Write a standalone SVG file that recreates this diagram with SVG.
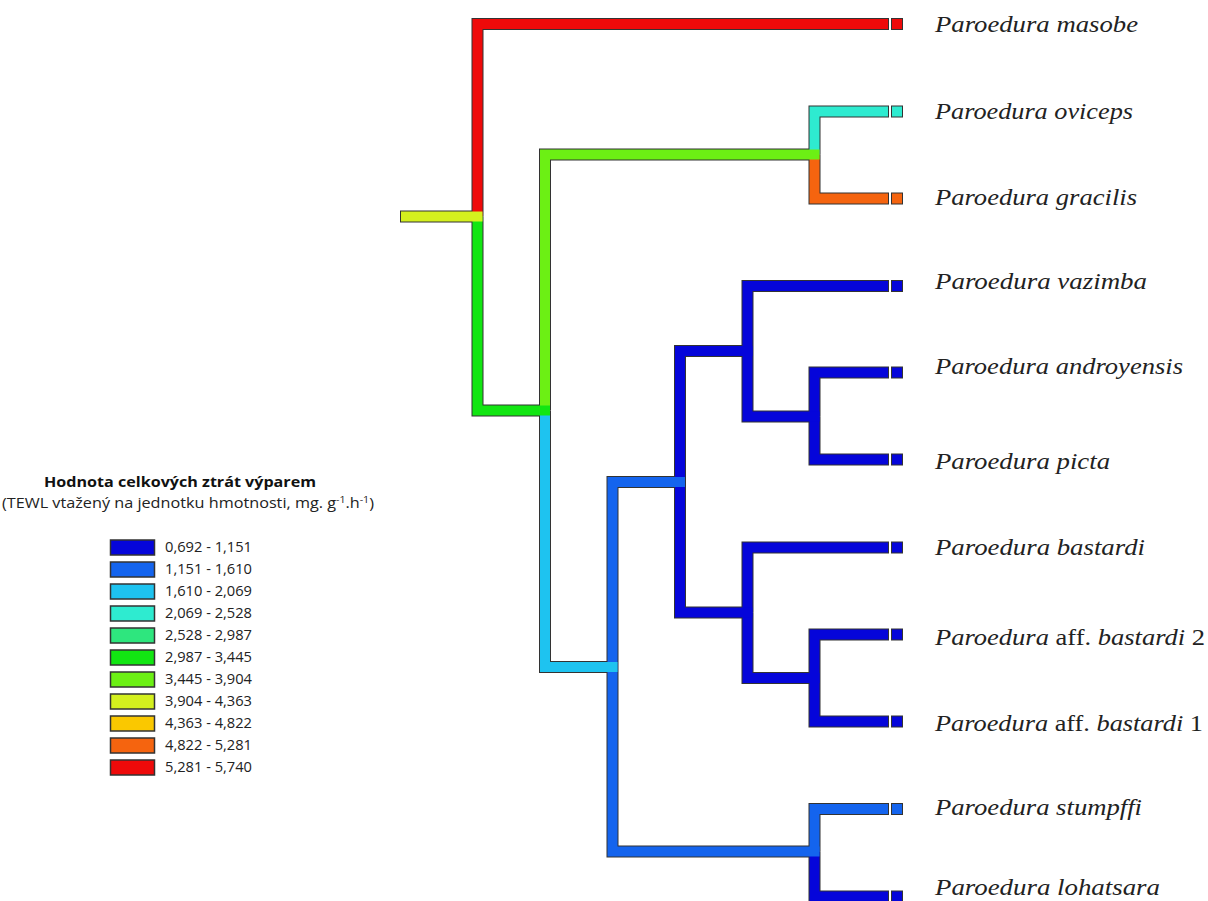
<svg xmlns="http://www.w3.org/2000/svg" width="1208" height="901" viewBox="0 0 1208 901">
<style>
.o{fill:none;stroke:#333;stroke-width:12;stroke-linejoin:miter;stroke-linecap:butt}
.f{fill:none;stroke-width:10;stroke-linejoin:miter;stroke-linecap:butt}
.tip{stroke:#333;stroke-width:1}
.tx{font-family:"Liberation Serif","Times New Roman",serif;font-size:24px;font-style:italic;fill:#222}
.up{font-style:normal}
.lg{font-family:"Open Sans","Liberation Sans",Arial,sans-serif;font-size:14.5px;fill:#222}
.lt{font-family:"Open Sans","Liberation Sans",Arial,sans-serif;font-size:15px;font-weight:bold;fill:#111}
.lb{stroke:#333;stroke-width:1.5}
.c1{stroke:#0505DA}.c2{stroke:#1464EE}.c3{stroke:#1EC3F0}.c4{stroke:#2EEBD0}.c6{stroke:#12E612}.c7{stroke:#6CF014}.c8{stroke:#D4F01E}.c10{stroke:#F5640F}.c11{stroke:#EE0A0A}
</style>
<rect width="1208" height="901" fill="#ffffff"/>
<g id="connectors">
  <g id="outlines" class="o">
    <path d="M477.5,216.5 V24 H889"/>
    <path d="M814.5,154.5 V111.5 H889"/>
    <path d="M814.5,154.5 V198.5 H889"/>
    <path d="M747.5,351 V286 H889"/>
    <path d="M814.5,416.5 V372.5 H889"/>
    <path d="M814.5,416.5 V459.5 H889"/>
    <path d="M747.5,612.5 V547.5 H889"/>
    <path d="M814.5,678 V634.5 H889"/>
    <path d="M814.5,678 V721.5 H889"/>
    <path d="M814.5,851.5 V809 H889"/>
    <path d="M814.5,851.5 V896.5 H889"/>
    <path d="M747.5,351 V416.5 H819.5"/>
    <path d="M747.5,612.5 V678 H819.5"/>
    <path d="M680,482 V351 H752.5"/>
    <path d="M680,482 V612.5 H752.5"/>
    <path d="M685,482 H612.5 V851.5 H819.5"/>
    <path d="M545,410.5 V667 H617.5"/>
    <path d="M545,410.5 V154.5 H819.5"/>
    <path d="M477.5,216.5 V410.5 H550"/>
    <path d="M400,216.5 H482.5"/>
  </g>
  <g id="branches" class="f">
    <path class="c11" d="M477.5,216.5 V24 H888"/>
    <path class="c4" d="M814.5,154.5 V111.5 H888"/>
    <path class="c10" d="M814.5,154.5 V198.5 H888"/>
    <path class="c1" d="M747.5,351 V286 H888"/>
    <path class="c1" d="M814.5,416.5 V372.5 H888"/>
    <path class="c1" d="M814.5,416.5 V459.5 H888"/>
    <path class="c1" d="M747.5,612.5 V547.5 H888"/>
    <path class="c1" d="M814.5,678 V634.5 H888"/>
    <path class="c1" d="M814.5,678 V721.5 H888"/>
    <path class="c2" d="M814.5,851.5 V809 H888"/>
    <path class="c1" d="M814.5,851.5 V896.5 H888"/>
    <path class="c1" d="M747.5,351 V416.5 H819.5"/>
    <path class="c1" d="M747.5,612.5 V678 H819.5"/>
    <path class="c1" d="M680,482 V351 H752.5"/>
    <path class="c1" d="M680,482 V612.5 H752.5"/>
    <path class="c2" d="M685,482 H612.5 V851.5 H819.5"/>
    <path class="c3" d="M545,410.5 V667 H617.5"/>
    <path class="c7" d="M545,410.5 V154.5 H819.5"/>
    <path class="c6" d="M477.5,216.5 V410.5 H550"/>
    <path class="c8" d="M401,216.5 H482.5"/>
  </g>
</g>
<g id="taxon-masobe"><rect class="tip" x="891.5" y="18.5" width="11" height="11" fill="#EE0A0A"/><text class="tx" x="935" y="32" textLength="203" lengthAdjust="spacingAndGlyphs">Paroedura masobe</text></g>
<g id="taxon-oviceps"><rect class="tip" x="891.5" y="106" width="11" height="11" fill="#2EEBD0"/><text class="tx" x="935" y="119" textLength="198" lengthAdjust="spacingAndGlyphs">Paroedura oviceps</text></g>
<g id="taxon-gracilis"><rect class="tip" x="891.5" y="193" width="11" height="11" fill="#F5640F"/><text class="tx" x="935" y="205" textLength="202" lengthAdjust="spacingAndGlyphs">Paroedura gracilis</text></g>
<g id="taxon-vazimba"><rect class="tip" x="891.5" y="280.5" width="11" height="11" fill="#0505DA"/><text class="tx" x="935" y="289" textLength="212" lengthAdjust="spacingAndGlyphs">Paroedura vazimba</text></g>
<g id="taxon-androyensis"><rect class="tip" x="891.5" y="367" width="11" height="11" fill="#0505DA"/><text class="tx" x="935" y="374" textLength="248" lengthAdjust="spacingAndGlyphs">Paroedura androyensis</text></g>
<g id="taxon-picta"><rect class="tip" x="891.5" y="454" width="11" height="11" fill="#0505DA"/><text class="tx" x="935" y="469" textLength="175" lengthAdjust="spacingAndGlyphs">Paroedura picta</text></g>
<g id="taxon-bastardi"><rect class="tip" x="891.5" y="542" width="11" height="11" fill="#0505DA"/><text class="tx" x="935" y="555" textLength="210" lengthAdjust="spacingAndGlyphs">Paroedura bastardi</text></g>
<g id="taxon-aff-bastardi-2"><rect class="tip" x="891.5" y="629" width="11" height="11" fill="#0505DA"/><text class="tx" x="935" y="645" textLength="270" lengthAdjust="spacingAndGlyphs">Paroedura<tspan class="up"> aff. </tspan>bastardi<tspan class="up"> 2</tspan></text></g>
<g id="taxon-aff-bastardi-1"><rect class="tip" x="891.5" y="716" width="11" height="11" fill="#0505DA"/><text class="tx" x="935" y="731" textLength="268" lengthAdjust="spacingAndGlyphs">Paroedura<tspan class="up"> aff. </tspan>bastardi<tspan class="up"> 1</tspan></text></g>
<g id="taxon-stumpffi"><rect class="tip" x="891.5" y="803.5" width="11" height="11" fill="#1464EE"/><text class="tx" x="935" y="815" textLength="207" lengthAdjust="spacingAndGlyphs">Paroedura stumpffi</text></g>
<g id="taxon-lohatsara"><rect class="tip" x="891.5" y="891" width="11" height="11" fill="#0505DA"/><text class="tx" x="935" y="895" textLength="225" lengthAdjust="spacingAndGlyphs">Paroedura lohatsara</text></g>
<g id="legend">
  <text class="lt" x="44" y="487" textLength="272" lengthAdjust="spacingAndGlyphs">Hodnota celkových ztrát výparem</text>
  <text class="lg" x="2" y="508" font-size="15" textLength="372" lengthAdjust="spacingAndGlyphs">(TEWL vtažený na jednotku hmotnosti, mg. g<tspan dy="-5" font-size="9.5">-1</tspan><tspan dy="5">.h</tspan><tspan dy="-5" font-size="9.5">-1</tspan><tspan dy="5">)</tspan></text>
  <g class="lb">
    <rect x="110.5" y="540" width="44" height="15" fill="#0505DA"/>
    <rect x="110.5" y="562" width="44" height="15" fill="#1464EE"/>
    <rect x="110.5" y="584" width="44" height="15" fill="#1EC3F0"/>
    <rect x="110.5" y="606" width="44" height="15" fill="#2EEBD0"/>
    <rect x="110.5" y="628" width="44" height="15" fill="#2EE67E"/>
    <rect x="110.5" y="650" width="44" height="15" fill="#12E612"/>
    <rect x="110.5" y="672" width="44" height="15" fill="#6CF014"/>
    <rect x="110.5" y="694" width="44" height="15" fill="#D4F01E"/>
    <rect x="110.5" y="716" width="44" height="15" fill="#FAC800"/>
    <rect x="110.5" y="738" width="44" height="15" fill="#F5640F"/>
    <rect x="110.5" y="760" width="44" height="15" fill="#EE0A0A"/>
  </g>
  <g class="lg">
    <text x="165" y="552" textLength="87" lengthAdjust="spacingAndGlyphs">0,692 - 1,151</text>
    <text x="165" y="574" textLength="87" lengthAdjust="spacingAndGlyphs">1,151 - 1,610</text>
    <text x="165" y="596" textLength="87" lengthAdjust="spacingAndGlyphs">1,610 - 2,069</text>
    <text x="165" y="618" textLength="87" lengthAdjust="spacingAndGlyphs">2,069 - 2,528</text>
    <text x="165" y="640" textLength="87" lengthAdjust="spacingAndGlyphs">2,528 - 2,987</text>
    <text x="165" y="662" textLength="87" lengthAdjust="spacingAndGlyphs">2,987 - 3,445</text>
    <text x="165" y="684" textLength="87" lengthAdjust="spacingAndGlyphs">3,445 - 3,904</text>
    <text x="165" y="706" textLength="87" lengthAdjust="spacingAndGlyphs">3,904 - 4,363</text>
    <text x="165" y="728" textLength="87" lengthAdjust="spacingAndGlyphs">4,363 - 4,822</text>
    <text x="165" y="750" textLength="87" lengthAdjust="spacingAndGlyphs">4,822 - 5,281</text>
    <text x="165" y="772" textLength="87" lengthAdjust="spacingAndGlyphs">5,281 - 5,740</text>
  </g>
</g>
</svg>
